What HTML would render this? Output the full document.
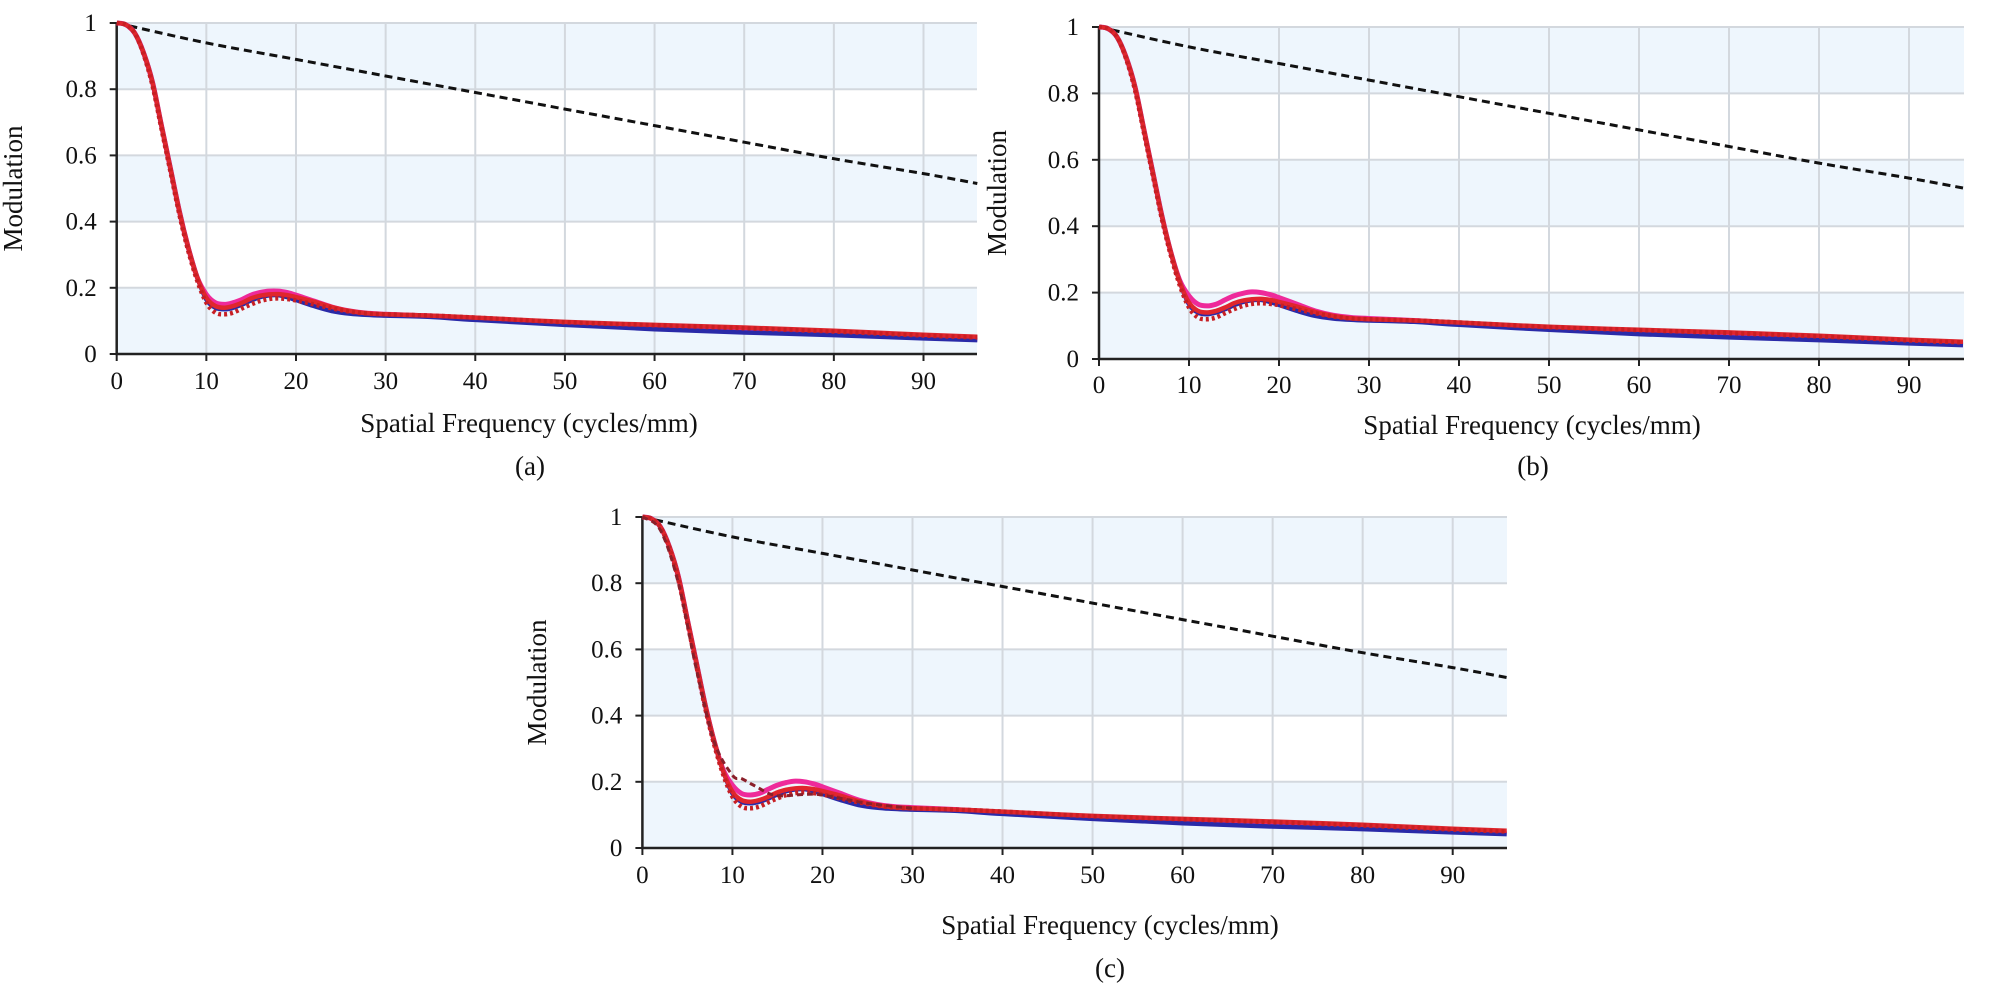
<!DOCTYPE html>
<html><head><meta charset="utf-8">
<style>
html,body{margin:0;padding:0;background:#fff;}
svg{display:block;}
text{font-family:"Liberation Serif",serif;fill:#111;}
</style></head>
<body>
<svg id="fig" width="2000" height="1004" viewBox="0 0 2000 1004" xmlns="http://www.w3.org/2000/svg"></svg>
<script>
// ---- data ----
const xTicks = [0,10,20,30,40,50,60,70,80,90];
const yTicks = [0,0.2,0.4,0.6,0.8,1];
const yTickLabels = ["0","0.2","0.4","0.6","0.8","1"];
const diffX = [0,10,20,30,40,50,60,70,80,90,96];
const diffY = [1,0.94,0.89,0.84,0.79,0.74,0.69,0.64,0.59,0.545,0.515];
const mtfX = [0,1,2,3,4,5,6,7,8,9,10,11,12,13,14,15,16,17,18,19,20,22,24,26,28,30,35,40,50,60,70,80,90,96];
const pinkY = [1,0.995,0.97,0.91,0.82,0.69,0.56,0.43,0.32,0.23,0.18,0.155,0.15,0.155,0.165,0.178,0.186,0.19,0.19,0.186,0.178,0.16,0.142,0.13,0.123,0.12,0.115,0.108,0.095,0.085,0.075,0.065,0.052,0.045];
const pinkBCY = [1,0.995,0.97,0.91,0.82,0.69,0.56,0.43,0.32,0.235,0.19,0.165,0.16,0.165,0.178,0.19,0.198,0.202,0.2,0.194,0.185,0.165,0.145,0.132,0.125,0.122,0.116,0.108,0.095,0.085,0.075,0.065,0.052,0.045];
const redY  = [1,0.995,0.97,0.91,0.82,0.69,0.56,0.43,0.32,0.23,0.17,0.145,0.14,0.145,0.155,0.168,0.176,0.18,0.181,0.178,0.172,0.158,0.142,0.13,0.123,0.12,0.116,0.11,0.097,0.088,0.08,0.07,0.058,0.052];
const blueY = [1,0.995,0.97,0.91,0.82,0.69,0.56,0.43,0.32,0.23,0.165,0.14,0.135,0.14,0.15,0.162,0.172,0.177,0.178,0.172,0.163,0.145,0.13,0.122,0.118,0.116,0.112,0.103,0.088,0.075,0.065,0.057,0.047,0.042];
const dotY  = [1,0.995,0.97,0.905,0.81,0.68,0.55,0.42,0.31,0.22,0.155,0.125,0.12,0.125,0.138,0.15,0.16,0.166,0.168,0.166,0.162,0.15,0.138,0.128,0.122,0.12,0.116,0.11,0.096,0.087,0.078,0.068,0.056,0.05];
const dashCX = [0,2,4,6,8,10,11,12,13,14,15,16,18,20,25,30];
const dashCY = [1,0.96,0.8,0.54,0.32,0.22,0.21,0.195,0.18,0.165,0.158,0.158,0.162,0.16,0.135,0.12];

const panels = [
  {id:"a", x0:116.7, x90:923.5, right:977, y1:23, y0:354, ylab:22, tickY:389, titleX:529, titleY:432, capX:530, capY:475},
  {id:"b", x0:1099, x90:1909, right:1964, y1:27, y0:359, ylab:1006, tickY:393, titleX:1532, titleY:434, capX:1533, capY:475},
  {id:"c", x0:642.4, x90:1452.7, right:1507, y1:517, y0:848, ylab:546, tickY:883, titleX:1110, titleY:934, capX:1110, capY:977}
];
const NS="http://www.w3.org/2000/svg";
const svg=document.getElementById('fig');
function mk(tag,attrs,parent){const e=document.createElementNS(NS,tag);for(const k in attrs)e.setAttribute(k,attrs[k]);(parent||svg).appendChild(e);return e;}
function pathFrom(xs,ys,sx,sy){
  const p=xs.map((x,i)=>[sx(x),sy(ys[i])]);
  let d="M"+p[0][0].toFixed(1)+","+p[0][1].toFixed(1);
  for(let i=0;i<p.length-1;i++){
    const p0=p[Math.max(0,i-1)],p1=p[i],p2=p[i+1],p3=p[Math.min(p.length-1,i+2)];
    const c1=[p1[0]+(p2[0]-p0[0])/6,p1[1]+(p2[1]-p0[1])/6];
    const c2=[p2[0]-(p3[0]-p1[0])/6,p2[1]-(p3[1]-p1[1])/6];
    d+=" C"+c1[0].toFixed(1)+","+c1[1].toFixed(1)+" "+c2[0].toFixed(1)+","+c2[1].toFixed(1)+" "+p2[0].toFixed(1)+","+p2[1].toFixed(1);
  }
  return d;
}
panels.forEach(P=>{
  const sx=v=>P.x0+(P.x90-P.x0)*v/90;
  const sy=v=>P.y0+(P.y1-P.y0)*v;
  const g=mk('g',{});
  
  
  for(let i=0;i<5;i++){
    const b=mk('rect',{x:P.x0,y:sy((i+1)*0.2),width:P.right-P.x0,height:sy(i*0.2)-sy((i+1)*0.2),fill:(i%2===0)?'#eef6fd':'#ffffff'},g);
    
    
  }
  xTicks.forEach(t=>{
    if(t>0){const l=mk('line',{x1:sx(t),x2:sx(t),y1:P.y1,y2:P.y0,stroke:'#d3d8de','stroke-width':2},g);
      }
    const tk=mk('line',{x1:sx(t),x2:sx(t),y1:P.y0,y2:P.y0+7,stroke:'#222','stroke-width':2},g);
    
    const tx=mk('text',{x:sx(t),y:P.tickY,'text-anchor':'middle','font-size':25},g);
    tx.textContent=String(t);
    
  });
  yTicks.forEach((t,i)=>{
    if(t>0){const l=mk('line',{x1:P.x0,x2:P.right,y1:sy(t),y2:sy(t),stroke:'#d3d8de','stroke-width':2},g);
      }
    const tk=mk('line',{x1:P.x0-7,x2:P.x0,y1:sy(t),y2:sy(t),stroke:'#222','stroke-width':2},g);
    
    const tx=mk('text',{x:P.x0-20,y:sy(t)+8,'text-anchor':'end','font-size':25},g);
    tx.textContent=yTickLabels[i];
    
  });
  const ax=mk('path',{d:`M${P.x0},${P.y1} V${P.y0} H${P.right}`,fill:'none',stroke:'#222','stroke-width':2.5},g);
  
  const series=[
    [diffX,diffY,'#111',3,'8 5','diffraction-limit'],
    [mtfX,(P.id==='a'?pinkY:pinkBCY),'#ee2a9a',5,null,'mtf-pink'],
    [mtfX,blueY,'#2a2aa8',4.5,null,'mtf-blue'],
    [mtfX,redY,'#e0262d',4.5,null,'mtf-red'],
    [mtfX,dotY,'#c71f24',4.5,'3 3','mtf-red-dotted']
  ];
  if(P.id==='c') series.push([dashCX,dashCY,'#8a1f2a',3,'6 4','mtf-dashed-dark']);
  series.forEach(s=>{
    const attrs={d:pathFrom(s[0],s[1],sx,sy),fill:'none',stroke:s[2],'stroke-width':s[3],'stroke-linejoin':'round'};
    if(s[4])attrs['stroke-dasharray']=s[4];
    const p=mk('path',attrs,g);
    
    
  });
  const yl=mk('text',{x:P.ylab,y:(P.y0+P.y1)/2,'text-anchor':'middle','font-size':27,transform:`rotate(-90 ${P.ylab} ${(P.y0+P.y1)/2})`},g);
  yl.textContent='Modulation';
  
  const xl=mk('text',{x:P.titleX,y:P.titleY,'text-anchor':'middle','font-size':27},g);
  xl.textContent='Spatial Frequency (cycles/mm)';
  
  const cp=mk('text',{x:P.capX,y:P.capY,'text-anchor':'middle','font-size':27},g);
  cp.textContent='('+P.id+')';
  
});
</script>
</body></html>
